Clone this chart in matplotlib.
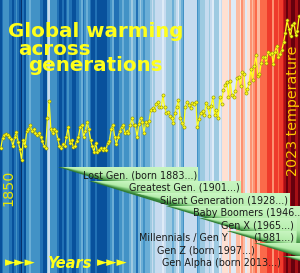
import numpy as np
import matplotlib
matplotlib.use("Agg")
import matplotlib.pyplot as plt
from matplotlib.colors import ListedColormap, Normalize, LinearSegmentedColormap
from matplotlib.patches import Polygon

# ---------------- data ----------------
years = np.arange(1850, 2024)
anomaly = [
    -0.42, -0.31, -0.28, -0.27, -0.28, -0.30, -0.32, -0.40, -0.30, -0.25,   # 1850s
    -0.35, -0.43, -0.54, -0.33, -0.40, -0.24, -0.22, -0.18, -0.24, -0.22,   # 1860s
    -0.26, -0.28, -0.26, -0.30, -0.34, -0.40, -0.42, -0.10, 0.08, -0.22,    # 1870s
    -0.26, -0.22, -0.24, -0.32, -0.40, -0.42, -0.38, -0.40, -0.30, -0.20,   # 1880s
    -0.36, -0.33, -0.41, -0.40, -0.34, -0.30, -0.20, -0.18, -0.30, -0.24,   # 1890s
    -0.14, -0.22, -0.33, -0.40, -0.46, -0.36, -0.46, -0.44, -0.42, -0.44,   # 1900s
    -0.42, -0.44, -0.36, -0.34, -0.22, -0.17, -0.30, -0.38, -0.30, -0.24,   # 1910s
    -0.20, -0.18, -0.26, -0.24, -0.26, -0.18, -0.10, -0.17, -0.18, -0.30,   # 1920s
    -0.16, -0.10, -0.14, -0.26, -0.14, -0.17, -0.13, -0.02, 0.00, -0.02,    # 1930s
    0.05, 0.07, 0.02, 0.01, 0.14, 0.01, -0.05, -0.04, -0.08, -0.10,         # 1940s
    -0.15, -0.05, 0.02, 0.09, -0.10, -0.15, -0.20, 0.02, 0.07, 0.04,        # 1950s
    0.00, 0.06, 0.05, 0.07, -0.20, -0.11, -0.05, -0.03, -0.07, 0.06,        # 1960s
    0.01, -0.08, 0.03, 0.12, -0.07, -0.02, -0.10, 0.12, 0.05, 0.19,         # 1970s
    0.25, 0.28, 0.12, 0.29, 0.14, 0.12, 0.18, 0.32, 0.33, 0.24,             # 1980s
    0.38, 0.36, 0.16, 0.20, 0.27, 0.42, 0.30, 0.45, 0.56, 0.34,             # 1990s
    0.36, 0.48, 0.54, 0.54, 0.48, 0.60, 0.57, 0.59, 0.47, 0.60,             # 2000s
    0.66, 0.54, 0.58, 0.62, 0.70, 0.80, 0.93, 0.84, 0.76, 0.88,             # 2010s
    0.90, 0.78, 0.82, 0.98,                                                 # 2020s
]

gen_birth = [1883, 1901, 1928, 1946, 1965, 1981, 1997, 2013]
gen_end = [1964.3, 1989.3, 2017.7, 2023.5, 2021.8, 2021.2, 2023.5, 2023.5]
gen_labels = ["Lost Gen. (born 1883...)", "Greatest Gen. (1901...)",
              "Silent Generation (1928...)", "Baby Boomers (1946...)",
              "Gen X (1965...)", "(1981...)", "Gen Z (born 1997...)",
              "Gen Alpha (born 2013...)"]
extra_label = "Millennials / Gen Y"

stripe_colors = ['#08306b', '#08519c', '#2171b5', '#4292c6', '#6baed6', '#9ecae1',
                 '#c6dbef', '#deebf7', '#fee0d2', '#fcbba1', '#fc9272', '#fb6a4a',
                 '#ef3b2c', '#cb181d', '#a50f15', '#67000d']

# ---------------- figure ----------------
W, H = 300, 273
fig = plt.figure(figsize=(W / 100, H / 100), dpi=100)
ax = fig.add_axes([0, 0, 1, 1])
ax.set_axis_off()
x0, x1 = 1849.5, 2023.5
y0, y1 = -1.738, 1.145
ax.set_xlim(x0, x1)
ax.set_ylim(y0, y1)

def fx(px):
    return px / W

def fy(py):
    return 1 - py / H

# warming stripes
cmap = ListedColormap(stripe_colors)
norm = Normalize(vmin=-0.58, vmax=0.95)
ax.bar(years, y1 - y0, bottom=y0, width=1.0, color=cmap(norm(np.array(anomaly))),
       linewidth=0, zorder=1)

# temperature line
ax.plot(years, anomaly, color='#ffff1a', lw=0.9, zorder=5,
        marker='o', ms=2.3, mfc='#ffff1a', mec='#8a8a00', mew=0.4)

# generation wedges
trans = ax.get_xaxis_transform()
slope = 0.31 * (W / 174) / H  # axes units per year
tops_px = [167, 180.5, 193, 205.5, 218, 230.5, 243, 255.5]
gcmap = LinearSegmentedColormap.from_list(
    'g', [(0.0, '#c9f6c2'), (0.6, '#b2eca9'), (0.88, '#4f9f4f'), (1.0, '#2e7a32')])
for i, (b, e, tp) in enumerate(zip(gen_birth, gen_end, tops_px)):
    top = fy(tp)
    bot = top - slope * (e - b)
    poly = Polygon([(b, top), (e, top), (e, bot)], closed=True, transform=trans,
                   facecolor='none', edgecolor='none', zorder=10 + i)
    ax.add_patch(poly)
    nx, ny = 160, 80
    xs = np.linspace(b, e, nx)
    ys = np.linspace(top, bot, ny)
    XX, YY = np.meshgrid(xs, ys)
    local = np.maximum(slope * (XX - b), 1e-6)
    t = np.clip((top - YY) / local, 0, 1)
    im = ax.imshow(t, cmap=gcmap, vmin=0, vmax=1, extent=[b, e, bot, top],
                   origin='upper', aspect='auto', transform=trans, zorder=10 + i,
                   interpolation='bilinear')
    im.set_clip_path(poly)

# generation labels
lab_pos = [(83, 175), (129, 188), (160, 200.5), (193, 213), (221, 225.5),
           (253, 238), (157, 250.5), (162, 262.5)]
for (px, py), txt in zip(lab_pos, gen_labels):
    ax.text(fx(px), fy(py), txt, transform=ax.transAxes, fontsize=6.9,
            color='#1a1a1a', ha='left', va='center', zorder=30)
ax.text(fx(228), fy(238), extra_label, transform=ax.transAxes, fontsize=6.9,
        color='#1a1a1a', ha='right', va='center', zorder=30)

# title
yellow = '#ffff1a'
for txt, px, py in [("Global warming", 8, 37), ("across", 18, 55), ("generations", 28, 71)]:
    ax.text(fx(px), fy(py), txt, transform=ax.transAxes, fontsize=14.3,
            fontweight='bold', color=yellow, ha='left', va='baseline', zorder=40)

# side labels
ax.text(fx(8), fy(188), "1850", transform=ax.transAxes, fontsize=10.3, rotation=90,
        color='#e8e800', ha='center', va='center', zorder=40)
ax.text(fx(293), fy(111), "2023 temperature", transform=ax.transAxes, fontsize=10.3,
        rotation=90, color='#ffc800', ha='center', va='center', zorder=40)

# years arrow label
ax.text(fx(5), fy(263), "\u25BA\u25BA\u25BA", transform=ax.transAxes, fontsize=9.5,
        color=yellow, ha='left', va='center', zorder=40)
ax.text(fx(47), fy(268), "Years", transform=ax.transAxes, fontsize=10.5,
        fontweight='bold', fontstyle='italic', color=yellow, ha='left',
        va='baseline', zorder=40)
ax.text(fx(97), fy(263), "\u25BA\u25BA\u25BA", transform=ax.transAxes, fontsize=9.5,
        color=yellow, ha='left', va='center', zorder=40)

ax.set_xlim(x0, x1)
ax.set_ylim(y0, y1)
fig.savefig("out.png", dpi=100)
